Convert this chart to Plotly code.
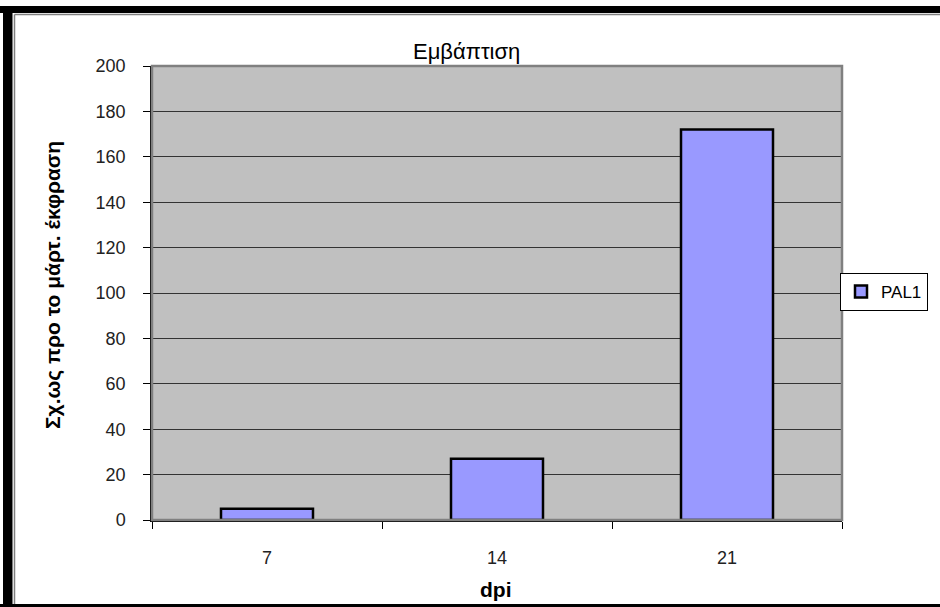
import plotly.graph_objects as go

categories = ["7", "14", "21"]
values = [5, 27, 172]
series_name = "PAL1"
y_ticks = [0, 20, 40, 60, 80, 100, 120, 140, 160, 180, 200]

W, H = 940, 607
L, R, T, B = 152, 842, 66, 520  # plot area pixel box
pw, ph = R - L, B - T

def px(x):
    return (x - L) / pw

def py(y):
    return (B - y) / ph

font = "Liberation Sans, Arial, sans-serif"

fig = go.Figure()
fig.add_trace(go.Bar(
    x=categories, y=values, name=series_name,
    marker=dict(color="#9999FF", line=dict(color="#000000", width=2.5)),
    width=0.4,
))

shapes = [
    # plot area border (top/right gray)
    dict(type="rect", xref="paper", yref="paper", x0=0, y0=0, x1=1, y1=1,
         line=dict(color="#808080", width=2.5), fillcolor="rgba(0,0,0,0)", layer="above"),
    # outer frame: black bands
    dict(type="rect", xref="paper", yref="paper", x0=px(0), x1=px(940), y0=py(6), y1=py(13),
         line=dict(width=0), fillcolor="#000000"),
    dict(type="rect", xref="paper", yref="paper", x0=px(3), x1=px(12.5), y0=py(6), y1=py(607),
         line=dict(width=0), fillcolor="#000000"),
    dict(type="rect", xref="paper", yref="paper", x0=px(0), x1=px(940), y0=py(604), y1=py(607),
         line=dict(width=0), fillcolor="#000000"),
    # thin gray inner lines
    dict(type="line", xref="paper", yref="paper", x0=px(14.5), x1=px(940), y0=py(14.5), y1=py(14.5),
         line=dict(color="#808080", width=1.5)),
    dict(type="line", xref="paper", yref="paper", x0=px(14.5), x1=px(14.5), y0=py(14.5), y1=py(604),
         line=dict(color="#808080", width=1.5)),
]

fig.update_layout(
    width=W, height=H,
    margin=dict(l=L, r=W - R, t=T, b=H - B, pad=0),
    paper_bgcolor="#FFFFFF",
    plot_bgcolor="#C0C0C0",
    font=dict(family=font, color="#000000", size=18),
    bargap=0.6,
    showlegend=True,
    legend=dict(
        x=px(840), y=py(273), xanchor="left", yanchor="top",
        bgcolor="#FFFFFF", bordercolor="#000000", borderwidth=1,
        font=dict(family=font, size=17, color="#000000"),
        itemwidth=30,
    ),
    shapes=shapes,
    annotations=[
        dict(text="Εμβάπτιση", xref="paper", yref="paper", x=px(466), y=py(51),
             xanchor="center", yanchor="middle", showarrow=False,
             font=dict(family=font, size=22, color="#000000")),
        dict(text="<b>Σχ.ως προ το μάρτ. έκφραση</b>", xref="paper", yref="paper",
             x=px(53), y=py(285), xanchor="center", yanchor="middle", textangle=-90,
             showarrow=False, font=dict(family=font, size=21, color="#000000")),
        dict(text="<b>dpi</b>", xref="paper", yref="paper", x=px(496), y=py(589),
             xanchor="center", yanchor="middle", showarrow=False,
             font=dict(family=font, size=21, color="#000000")),
    ],
)

fig.update_xaxes(
    type="category", showgrid=False, zeroline=False,
    showline=True, linecolor="#000000", linewidth=1.5,
    ticks="outside", tickson="boundaries", ticklen=7, tickcolor="#000000",
    ticklabelstandoff=21, tickfont=dict(size=18, color="#222222"),
)
fig.update_yaxes(
    range=[0, 200], tickvals=y_ticks, showgrid=True, gridcolor="#333333", gridwidth=1,
    zeroline=False, showline=True, linecolor="#000000", linewidth=1.5,
    ticks="outside", ticklen=7, tickcolor="#000000",
    ticklabelstandoff=14, tickfont=dict(size=18, color="#222222"),
)

fig.write_html(
    "out.html",
    config={"displayModeBar": False},
    post_script="document.body.style.margin='0';document.body.style.padding='0';",
)
